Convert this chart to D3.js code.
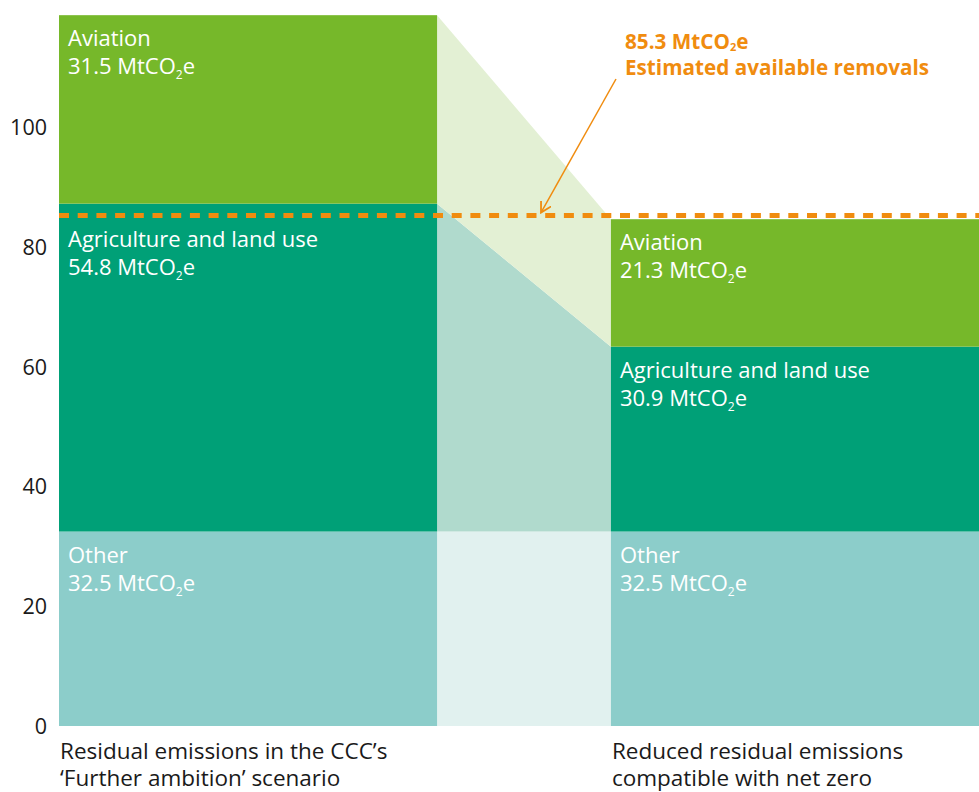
<!DOCTYPE html>
<html>
<head>
<meta charset="utf-8">
<script src="https://cdn.jsdelivr.net/npm/d3@7"></script>
<style>
  body { margin: 0; background: #fff; }
  svg { display: block; font-family: "Open Sans", sans-serif; }
</style>
</head>
<body>
<div id="chart"></div>
<script>
// sectors, bottom to top
const sectors = ["Other", "Agriculture and land use", "Aviation"];
const furtherAmbition = [32.5, 54.8, 31.5];
const netZero = [32.5, 30.9, 21.3];
const scenarioLabels = [
  ["Residual emissions in the CCC’s", "‘Further ambition’ scenario"],
  ["Reduced residual emissions", "compatible with net zero"]
];
const removals = 85.3;
const removalsLabel = ["85.3 MtCO", "Estimated available removals"];
const yTicks = [0, 20, 40, 60, 80, 100];

const barColors = ["#8ccdca", "#00a077", "#76b82a"];
const linkColors = ["#e1f1ef", "#b0dacd", "#e3f0d4"];
const orange = "#f08c0f";

const width = 979, height = 792;

const svg = d3.select("#chart").append("svg")
  .attr("width", width)
  .attr("height", height);

// right column runs past the edge of the picture
const x = d3.scaleBand()
  .domain([0, 1])
  .range([59, 989])
  .paddingInner(0.315)
  .paddingOuter(0);

const y = d3.scaleLinear()
  .domain([0, 120])
  .range([726, 8]);

// stack values into [bottom, top] per sector
function stackUp(values) {
  let acc = 0;
  return values.map(function(v) { const s = [acc, acc + v]; acc += v; return s; });
}
const columns = [stackUp(furtherAmbition), stackUp(netZero)];

// y axis labels (no line, no ticks)
svg.append("g")
  .selectAll("text")
  .data(yTicks)
  .join("text")
    .attr("x", 47)
    .attr("y", function(d) { return y(d); })
    .attr("dy", "0.35em")
    .attr("text-anchor", "end")
    .attr("fill", "#1a1a1a")
    .style("font-size", "21.5px")
    .text(function(d) { return d; });

// connectors between the two columns
const x0 = x(0) + x.bandwidth(), x1 = x(1);
svg.append("g")
  .selectAll("path")
  .data(sectors.map(function(s, i) { return i; }))
  .join("path")
    .attr("fill", function(i) { return linkColors[i]; })
    .attr("d", function(i) {
      const a = columns[0][i], b = columns[1][i];
      return "M" + x0 + "," + y(a[1]) + "L" + x1 + "," + y(b[1]) +
             "L" + x1 + "," + y(b[0]) + "L" + x0 + "," + y(a[0]) + "Z";
    });

// bars
const cols = svg.append("g")
  .selectAll("g")
  .data(columns)
  .join("g");

cols.selectAll("rect")
  .data(function(d, ci) { return d.map(function(s, i) { return { col: ci, i: i, s: s }; }); })
  .join("rect")
    .attr("x", function(d) { return x(d.col); })
    .attr("width", x.bandwidth())
    .attr("y", function(d) { return y(d.s[1]); })
    .attr("height", function(d) { return y(d.s[0]) - y(d.s[1]); })
    .attr("fill", function(d) { return barColors[d.i]; });

// labels inside bars, kept below the removals line
const labels = cols.selectAll("text")
  .data(function(d, ci) {
    const vals = ci === 0 ? furtherAmbition : netZero;
    return d.map(function(s, i) { return { col: ci, i: i, s: s, v: vals[i] }; });
  })
  .join("text")
    .attr("fill", "#fff")
    .style("font-size", "22px")
    .attr("transform", function(d) {
      let top = y(d.s[1]);
      if (d.s[1] > removals && d.s[0] < removals) top = y(removals);
      return "translate(" + (x(d.col) + 9) + "," + (top + 31) + ")";
    });

labels.append("tspan")
  .attr("x", 0)
  .text(function(d) { return sectors[d.i]; });

labels.append("tspan")
  .attr("x", 0)
  .attr("dy", 28)
  .text(function(d) { return d.v.toFixed(1) + " MtCO"; });
labels.append("tspan")
  .attr("dy", 5)
  .style("font-size", "12px")
  .text("2");
labels.append("tspan")
  .attr("dy", -5)
  .text("e");

// removals line
svg.append("line")
  .attr("x1", x(0))
  .attr("x2", width)
  .attr("y1", y(removals))
  .attr("y2", y(removals))
  .attr("stroke", orange)
  .attr("stroke-width", 5)
  .attr("stroke-dasharray", "10 8.7");

// annotation
const note = svg.append("text")
  .attr("x", 625)
  .attr("y", 49)
  .attr("fill", orange)
  .style("font-size", "20.7px")
  .style("font-weight", "bold");
note.append("tspan").text(removalsLabel[0]);
note.append("tspan").attr("dy", 2).style("font-size", "11px").text("2");
note.append("tspan").attr("dy", -2).text("e");
note.append("tspan").attr("x", 625).attr("dy", 26).text(removalsLabel[1]);

svg.append("defs").append("marker")
  .attr("id", "arrow")
  .attr("viewBox", "0 0 10 10")
  .attr("refX", 9)
  .attr("refY", 5)
  .attr("markerWidth", 8)
  .attr("markerHeight", 8)
  .attr("orient", "auto")
  .append("path")
    .attr("d", "M0,0L9,5L0,10")
    .attr("fill", "none")
    .attr("stroke", orange)
    .attr("stroke-width", 1.5);

svg.append("line")
  .attr("x1", 616)
  .attr("y1", 79)
  .attr("x2", 541)
  .attr("y2", y(removals) - 3)
  .attr("stroke", orange)
  .attr("stroke-width", 1.5)
  .attr("marker-end", "url(#arrow)");

// column captions
svg.append("g")
  .selectAll("text")
  .data(scenarioLabels)
  .join("text")
    .attr("x", function(d, i) { return x(i) + 1; })
    .attr("y", 759)
    .attr("fill", "#1a1a1a")
    .style("font-size", "22.5px")
    .selectAll("tspan")
    .data(function(d) { return d; })
    .join("tspan")
      .attr("x", function() { return this.parentNode.getAttribute("x"); })
      .attr("dy", function(d, i) { return i === 0 ? 0 : 27; })
      .text(function(d) { return d; });
</script>
</body>
</html>
